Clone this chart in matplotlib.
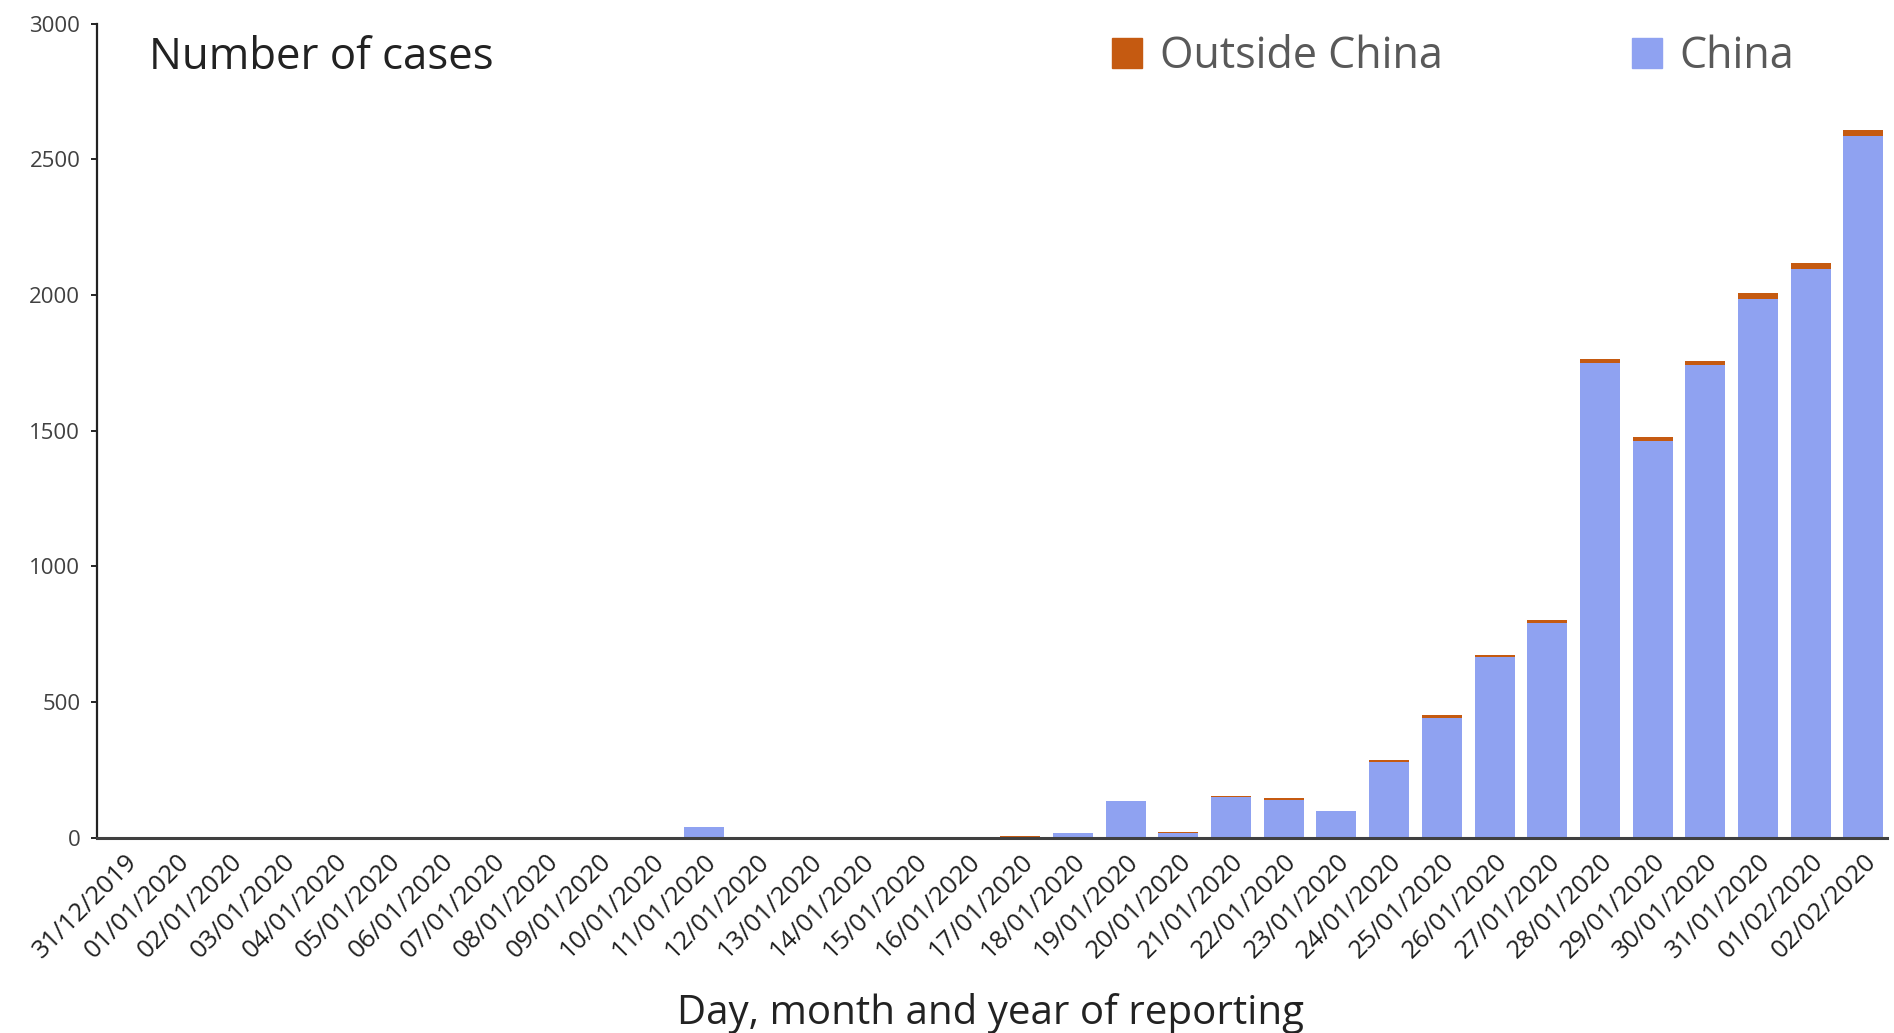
import numpy as np
import matplotlib.pyplot as plt
from matplotlib.patches import Patch

plt.rcParams['font.family'] = ['Open Sans', 'DejaVu Sans']

dates = ["31/12/2019"] + [f"{d:02d}/01/2020" for d in range(1, 32)] + ["01/02/2020", "02/02/2020"]

china = [0, 0, 0, 0, 0, 0, 0, 0, 0, 0, 0, 41, 0, 0, 0, 0, 0, 2, 17, 136,
         18, 151, 140, 97, 281, 443, 665, 792, 1750, 1463, 1741, 1985, 2098, 2588]
outside = [0, 0, 0, 0, 0, 0, 0, 0, 0, 0, 0, 0, 0, 0, 0, 0, 0, 3, 0, 0,
           3, 4, 7, 1, 5, 8, 7, 9, 13, 15, 17, 22, 21, 20]

blue = "#8fa2f1"
orange = "#c55a11"

fig = plt.figure(figsize=(18.94, 10.33), dpi=100)
ax = fig.add_axes([0.0512, 0.189, 0.9452, 0.788])

x = np.arange(len(dates))
ax.bar(x, china, width=0.76, color=blue)
ax.bar(x, outside, width=0.76, bottom=china, color=orange)

ax.set_xlim(-0.52, 33.45)
ax.set_ylim(0, 3000)
ax.set_yticks(np.arange(0, 3001, 500))
ax.tick_params(axis='y', labelsize=16, labelcolor="#404040", length=4, width=1.2, pad=8)
ax.set_xticks(x)
ax.set_xticklabels(dates, rotation=45, ha='right', rotation_mode='anchor', fontsize=18.5, color="#222222")
ax.tick_params(axis='x', length=0, pad=8)

for s in ['top', 'right']:
    ax.spines[s].set_visible(False)
ax.spines['left'].set_linewidth(1.6)
ax.spines['left'].set_color("#222222")
ax.spines['bottom'].set_linewidth(2.2)
ax.spines['bottom'].set_color("#404040")

ax.text(0.029, 0.958, "Number of cases", transform=ax.transAxes, fontsize=31.5,
        color="#222222", va='center', ha='left')

handles = [Patch(color=orange), Patch(color=blue)]
ax.legend(handles, ["Outside China", "China"], ncol=2, loc='center',
          bbox_to_anchor=(0.7575, 0.9595), frameon=False, fontsize=31,
          labelcolor="#595959", handlelength=0.7, handleheight=0.7,
          handletextpad=0.4, columnspacing=4.4)

fig.text(0.523, 0.009, "Day, month and year of reporting", fontsize=29,
         color="#222222", ha='center', va='baseline')

fig.savefig("out.png", dpi=100)
